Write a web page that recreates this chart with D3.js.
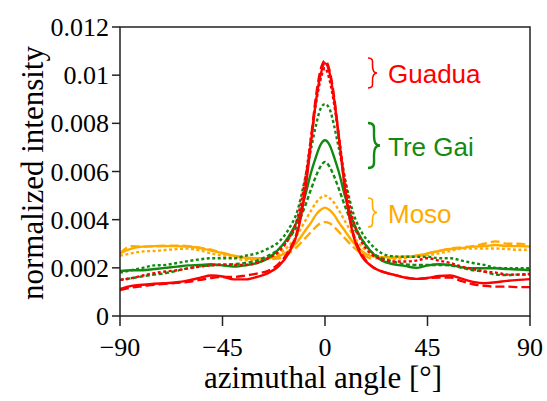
<!DOCTYPE html>
<html>
<head>
  <meta charset="utf-8">
  <script src="https://d3js.org/d3.v7.min.js"></script>
  <style>
    body { margin: 0; background: #fff; }
    .tick-label { font-family: "Liberation Serif", "Times New Roman", serif; font-size: 26px; fill: #000; }
    .axis-title { font-family: "Liberation Serif", "Times New Roman", serif; font-size: 31px; fill: #000; }
    .legend-text { font-family: "Liberation Sans", Arial, sans-serif; font-size: 26px; }
  </style>
</head>
<body>
<script>
// azimuthal angle (deg) at which the curves were read
var angles = [-90,-85,-80,-75,-70,-65,-60,-55,-50,-45,-40,-35,-30,-25,-20,
  -16,-12,-9,-6,-4,-2,0,2,4,6,9,12,16,
  20,25,30,35,40,45,50,55,60,65,70,75,80,85,90];

var guaduaSolid = [.00112,.00125,.0013,.00134,.00136,.0014,.00148,.00158,.00168,.00164,.00152,.00152,.00162,.00178,.0021,
  .0026,.0035,.0050,.0073,.0089,.0100,.0105,.0101,.0090,.0075,.0051,.0035,.0025,
  .0021,.00184,.00172,.0016,.00154,.00158,.00166,.00168,.00155,.00142,.00136,.0014,.00146,.0015,.00153];
var guaduaDashed = [.00108,.00118,.00124,.0013,.00134,.00138,.00142,.0015,.00158,.00162,.00162,.00168,.00176,.00188,.0022,
  .0027,.0036,.0052,.0075,.0091,.0102,.0106,.0102,.0091,.0075,.0052,.0036,.0026,
  .0021,.00185,.00172,.0016,.00154,.00158,.0016,.0016,.00145,.00132,.00125,.00122,.00122,.0012,.0012];
var guaduaDotted = [.0015,.00157,.00168,.00178,.00185,.0019,.00198,.00205,.0021,.00214,.00212,.00212,.0022,.0024,.0027,
  .0032,.0041,.0055,.0075,.0088,.0098,.0103,.0098,.0088,.0075,.0055,.0041,.0031,
  .0026,.00235,.00226,.00226,.0023,.0024,.0023,.0022,.00205,.00195,.00185,.0018,.00172,.00172,.00175];

var treGaiSolid = [.00187,.0019,.0019,.00195,.002,.00205,.0021,.00212,.00215,.0021,.00205,.0021,.0022,.0024,.0028,
  .0033,.0040,.0049,.0060,.0066,.0071,.0073,.0071,.0066,.0060,.0049,.0040,.0032,
  .0027,.0023,.00215,.00208,.002,.0021,.00215,.00212,.00202,.00198,.00198,.00198,.00195,.00193,.0019];
var treGaiUpper = [.0018,.0019,.002,.0021,.00212,.0022,.00228,.00235,.0024,.0024,.0024,.0025,.0026,.0028,.0031,
  .0036,.0044,.0056,.0070,.0079,.0086,.0088,.0086,.0079,.0070,.0056,.0044,.0035,
  .003,.0026,.00248,.00246,.00246,.00246,.0024,.0024,.0023,.0022,.00212,.002,.00198,.00198,.00198];
var treGaiLower = [.0015,.00157,.00165,.00172,.00178,.00188,.00198,.00206,.0021,.00212,.00215,.0022,.0023,.0025,.0028,
  .0032,.0038,.0045,.0053,.0058,.0062,.0064,.0062,.0058,.0053,.0045,.0038,.0032,
  .0027,.0024,.00226,.00215,.00212,.00212,.00212,.0021,.002,.0019,.00184,.00172,.0017,.00172,.00172];

var mosoSolid = [.0026,.0028,.00288,.0029,.0029,.0029,.00288,.00282,.00272,.0026,.0025,.00242,.0024,.0024,.0025,
  .0027,.0031,.0035,.0039,.0042,.0044,.0045,.0044,.0042,.0039,.0035,.0031,.0027,
  .0025,.00244,.00245,.00246,.00248,.0026,.0027,.00278,.00282,.00288,.0029,.00295,.0029,.0029,.00288];
var mosoDashed = [.0026,.0029,.00288,.0029,.00292,.00292,.0029,.00284,.00275,.00262,.0025,.0024,.00236,.00236,.0024,
  .0026,.0029,.0032,.0035,.0037,.00385,.0039,.00385,.0037,.0035,.0032,.0029,.0026,
  .0024,.0024,.00242,.00246,.0025,.0026,.0027,.0028,.00285,.0029,.003,.0031,.003,.003,.0029];
var mosoDotted = [.0025,.0026,.00268,.0027,.00274,.00278,.0028,.00272,.0026,.0025,.0024,.00232,.0023,.0024,.0026,
  .0029,.0034,.0039,.0044,.0047,.0049,.0050,.0049,.0047,.0044,.0039,.0034,.0029,
  .0026,.0024,.00238,.0024,.0025,.00253,.0026,.0027,.0028,.0028,.0028,.0028,.00278,.00275,.00275];

var xTicks = [-90, -45, 0, 45, 90];
var xTickLabels = ["\u221290", "\u221245", "0", "45", "90"];
var yTicks = [0, 0.002, 0.004, 0.006, 0.008, 0.01, 0.012];
var yTickLabels = ["0", "0.002", "0.004", "0.006", "0.008", "0.01", "0.012"];

var groupNames = ["Guadua", "Tre Gai", "Moso"];
var groupColors = ["#ff0000", "#128a12", "#ffaa00"];

var W = 547, H = 401;
var plotLeft = 120, plotRight = 530, plotTop = 27, plotBottom = 316;

var svg = d3.select("body").append("svg")
    .attr("width", W)
    .attr("height", H);

var x = d3.scaleLinear().domain([-90, 90]).range([plotLeft, plotRight]);
var y = d3.scaleLinear().domain([0, 0.012]).range([plotBottom, plotTop]);

svg.append("clipPath").attr("id", "plot-clip")
  .append("rect")
    .attr("x", plotLeft).attr("y", plotTop)
    .attr("width", plotRight - plotLeft).attr("height", plotBottom - plotTop);

// series in drawing order: Moso underneath, Guadua on top
var series = [
  { vals: mosoDashed, color: groupColors[2], dash: "9,4" },
  { vals: mosoDotted, color: groupColors[2], dash: "3,2.5" },
  { vals: mosoSolid, color: groupColors[2], dash: null },
  { vals: treGaiLower, color: groupColors[1], dash: "4,2.5" },
  { vals: treGaiUpper, color: groupColors[1], dash: "3,2.5" },
  { vals: treGaiSolid, color: groupColors[1], dash: null },
  { vals: guaduaDashed, color: groupColors[0], dash: "9,4" },
  { vals: guaduaDotted, color: groupColors[0], dash: "3,2.5" },
  { vals: guaduaSolid, color: groupColors[0], dash: null }
];

var line = d3.line()
    .x(function (d) { return x(d[0]); })
    .y(function (d) { return y(d[1]); })
    .curve(d3.curveMonotoneX);

var plot = svg.append("g").attr("clip-path", "url(#plot-clip)");
series.forEach(function (s) {
  plot.append("path")
      .datum(angles.map(function (a, i) { return [a, s.vals[i]]; }))
      .attr("d", line)
      .attr("fill", "none")
      .attr("stroke", s.color)
      .attr("stroke-width", 2.4)
      .attr("stroke-dasharray", s.dash);
});

// frame
svg.append("rect")
    .attr("x", plotLeft).attr("y", plotTop)
    .attr("width", plotRight - plotLeft).attr("height", plotBottom - plotTop)
    .attr("fill", "none")
    .attr("stroke", "#222")
    .attr("stroke-width", 1.5);

// x axis
var xAxis = svg.append("g");
xAxis.selectAll("line").data(xTicks).enter().append("line")
    .attr("x1", function (d) { return x(d); })
    .attr("x2", function (d) { return x(d); })
    .attr("y1", plotBottom).attr("y2", plotBottom + 10)
    .attr("stroke", "#222").attr("stroke-width", 1.5);
xAxis.selectAll("text").data(xTicks).enter().append("text")
    .attr("class", "tick-label")
    .attr("x", function (d) { return x(d); })
    .attr("y", 356)
    .attr("text-anchor", "middle")
    .text(function (d, i) { return xTickLabels[i]; });

// y axis
var yAxis = svg.append("g");
yAxis.selectAll("line").data(yTicks).enter().append("line")
    .attr("x1", plotLeft - 8).attr("x2", plotLeft)
    .attr("y1", function (d) { return y(d); })
    .attr("y2", function (d) { return y(d); })
    .attr("stroke", "#222").attr("stroke-width", 1.5);
yAxis.selectAll("text").data(yTicks).enter().append("text")
    .attr("class", "tick-label")
    .attr("x", plotLeft - 11)
    .attr("y", function (d) { return y(d) + 9; })
    .attr("text-anchor", "end")
    .text(function (d, i) { return yTickLabels[i]; });

svg.append("text")
    .attr("class", "axis-title")
    .attr("x", (plotLeft + plotRight) / 2 - 2)
    .attr("y", 388)
    .attr("text-anchor", "middle")
    .text("azimuthal angle [\u00b0]");

svg.append("text")
    .attr("class", "axis-title")
    .attr("transform", "translate(43,173) rotate(-90)")
    .attr("text-anchor", "middle")
    .text("normalized intensity");

// legend: curly brace + name for each sample
function bracePath(bx, y0, y1, w) {
  var h = y1 - y0, ym = (y0 + y1) / 2, p = d3.path();
  p.moveTo(bx, y0);
  p.bezierCurveTo(bx + w * 0.6, y0, bx + w * 0.5, y0 + h * 0.1, bx + w * 0.5, y0 + h * 0.25);
  p.bezierCurveTo(bx + w * 0.5, ym - h * 0.08, bx + w * 0.6, ym, bx + w, ym);
  p.bezierCurveTo(bx + w * 0.6, ym, bx + w * 0.5, ym + h * 0.08, bx + w * 0.5, y1 - h * 0.25);
  p.bezierCurveTo(bx + w * 0.5, y1 - h * 0.1, bx + w * 0.6, y1, bx, y1);
  return p.toString();
}

var legendItems = [
  { name: groupNames[0], color: groupColors[0], b0: 58, b1: 88, w: 9, ty: 83 },
  { name: groupNames[1], color: groupColors[1], b0: 123, b1: 168, w: 12, ty: 156 },
  { name: groupNames[2], color: groupColors[2], b0: 198, b1: 227, w: 9, ty: 223 }
];
legendItems.forEach(function (d) {
  svg.append("path")
      .attr("d", bracePath(368, d.b0, d.b1, d.w))
      .attr("fill", "none")
      .attr("stroke", d.color)
      .attr("stroke-width", d.name === "Tre Gai" ? 2.4 : 1.6);
  svg.append("text")
      .attr("class", "legend-text")
      .attr("x", 388)
      .attr("y", d.ty)
      .attr("fill", d.color)
      .text(d.name);
});
</script>
</body>
</html>
